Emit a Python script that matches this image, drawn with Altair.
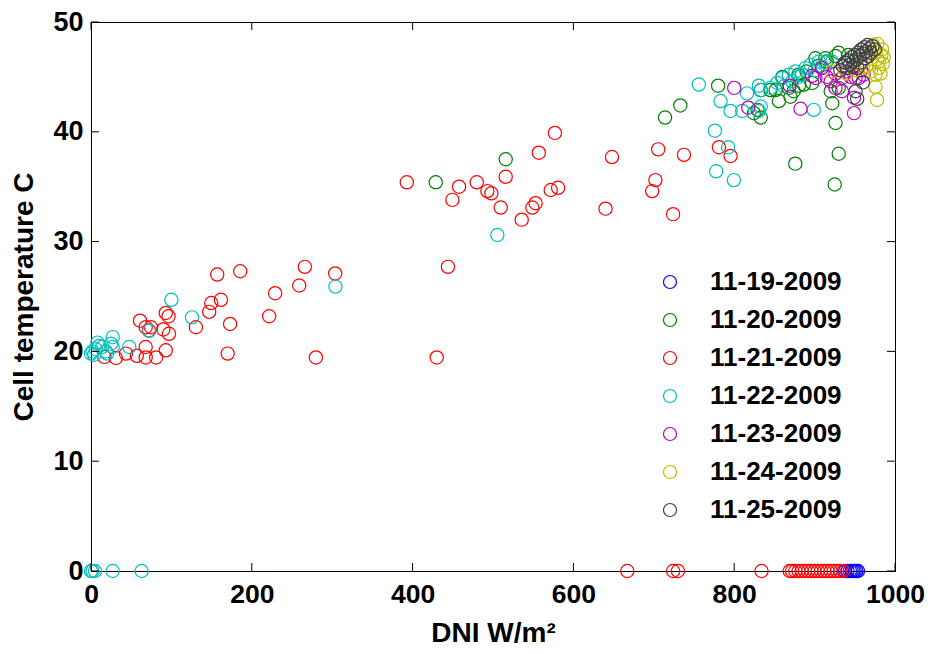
import altair as alt
import pandas as pd

dates = ["11-19-2009", "11-20-2009", "11-21-2009", "11-22-2009",
         "11-23-2009", "11-24-2009", "11-25-2009"]
colors = ["#0000FF", "#008000", "#FF0000", "#00BFBF", "#BF00BF", "#BFBF00", "#404040"]

x_ticks = [0, 200, 400, 600, 800, 1000]
y_ticks = [0, 10, 20, 30, 40, 50]

# 11-19-2009
dni_19 = [938, 941, 944, 946, 948, 950, 952, 954]
temp_19 = [0, 0, 0, 0, 0, 0, 0, 0]

# 11-20-2009
dni_20 = [428.8, 515.8, 714, 733, 780, 824.5, 833, 829, 855.6, 851.5, 870, 874,
          868, 880.5, 886.6, 897, 920, 922, 926, 930, 876, 925, 930, 833, 845,
          901, 913.5, 926, 930, 905, 915, 938, 942, 860, 890, 880]
temp_20 = [35.4, 37.5, 41.3, 42.4, 44.2, 41.7, 41.3, 42.0, 42.8, 43.8, 43.2, 43.7,
           44.0, 44.2, 44.3, 44.45, 43.7, 42.6, 40.8, 38.0, 37.1, 35.2, 44.0, 43.8, 43.8,
           46.7, 46.7, 46.9, 47.2, 46.0, 46.4, 46.3, 47.0, 45.0, 45.5, 45.2]

# 11-21-2009
dni_21 = [16.6, 31, 43.5, 57, 68, 68, 81, 93, 61, 68, 74.6, 72, 90, 97, 93, 96.5,
          130.5, 147, 149.5, 161.6, 173, 170, 157, 185.6, 221.6, 229, 259, 266,
          279.7, 303.7,
          392.8, 457.8, 449.5, 444, 430, 479.8, 493, 498, 509.6, 515.8, 535.7, 549,
          553, 557, 577, 571.8, 581, 648, 640, 705.5, 702, 698, 724, 737.5, 781, 795.5,
          667, 724, 730, 834, 869, 872, 876, 880, 884, 888, 892, 896, 900, 904, 908,
          912, 916, 920, 924, 928, 932, 936]
temp_21 = [19.5, 19.4, 19.8, 19.6, 19.45, 20.4, 19.45, 20.1, 22.8, 22.2, 22.2, 21.9,
           22.0, 21.6, 23.5, 23.2, 22.2, 23.6, 24.4, 24.7, 22.5, 19.8, 27.0, 27.3,
           23.2, 25.3, 26.0, 27.7, 19.45, 27.1,
           35.4, 35.0, 33.8, 27.7, 19.45, 35.4, 34.6, 34.4, 33.1, 35.9, 32.0, 33.1,
           33.5, 38.1, 39.9, 34.7, 34.9, 37.7, 33.0, 38.4, 35.6, 34.6, 32.5, 37.9,
           38.6, 37.8,
           0, 0, 0, 0, 0, 0, 0, 0, 0, 0, 0, 0, 0, 0, 0, 0, 0, 0, 0, 0, 0, 0]

# 11-22-2009
dni_22 = [0, 2, 5, 27, 63,
          0, 2, 4, 6, 10, 8, 14, 18.6, 24.9, 27, 27, 20, 47.6, 72.5, 100, 125.6, 304,
          505.4,
          756, 783, 795.5, 810, 816, 833, 830.7, 833, 830.7, 899, 776, 792.5, 777.6,
          799.6,
          853.5, 859.7, 868, 876.3, 888.7, 895, 905.3, 913.6, 921.8, 861.8, 872, 884.5,
          845, 880, 900, 910]
temp_22 = [0, 0, 0, 0, 0,
           19.8, 20.0, 19.7, 20.2, 20.5, 20.8, 20.4, 20.0, 20.7, 21.3, 20.4, 19.8,
           20.4, 21.9, 24.7, 23.1, 25.9,
           30.6,
           44.3, 42.8, 41.9, 41.9, 43.5, 43.8, 44.2, 42.3, 41.9, 42.0, 40.1, 38.6,
           36.4, 35.6,
           44.45, 44.9, 45.2, 45.5, 45.8, 46.1, 46.4, 46.3, 46.4, 44.15, 44.6, 45.2,
           44.0, 45.0, 45.6, 45.9]

# 11-23-2009
dni_23 = [800, 817.5, 869, 882.5, 926, 934, 949, 949, 897, 909, 926, 951, 961,
          901, 934, 955, 940, 945, 915, 920, 958]
temp_23 = [44.0, 42.2, 44.2, 42.1, 44.0, 43.7, 43.1, 41.7, 45.1, 45.8, 45.3, 44.9,
           45.2, 44.9, 44.9, 44.9, 45.5, 45.0, 45.0, 44.6, 45.6]

# 11-24-2009
dni_24 = [975.7, 977.7, 921.5, 980, 975.7, 980, 983, 984, 978, 973, 986, 982,
          970, 960, 950, 940, 978, 976, 965, 985]
temp_24 = [44.1, 42.9, 45.5, 45.8, 45.2, 46.4, 47.0, 47.5, 48.0, 47.9, 46.8, 45.3,
           45.5, 45.9, 45.6, 45.3, 46.6, 47.3, 46.0, 46.2]

# 11-25-2009
dni_25 = [932, 935, 938, 940, 942, 944, 946, 948, 950, 952, 954, 956, 958, 960,
          962, 964, 966, 968, 970, 972, 957, 963, 947, 953, 967, 975, 951, 953, 960]
temp_25 = [45.6, 46.0, 46.3, 45.8, 46.5, 46.1, 46.8, 46.4, 47.0, 46.6, 47.2, 46.9,
           47.5, 47.1, 47.7, 47.3, 47.9, 47.6, 47.2, 47.8, 46.3, 46.7, 45.9, 45.8,
           46.9, 47.5, 43.7, 43.0, 44.5]

series = [(dni_19, temp_19), (dni_20, temp_20), (dni_21, temp_21), (dni_22, temp_22),
          (dni_23, temp_23), (dni_24, temp_24), (dni_25, temp_25)]

rows = []
for i, (xs, ys) in enumerate(series):
    for k, (xv, yv) in enumerate(zip(xs, ys)):
        rows.append({"dni": xv, "temp": yv, "date": dates[i], "order": i * 1000 + k})
df = pd.DataFrame(rows)

FONT = "Liberation Sans"
W, H = 804, 549
xscale = alt.Scale(domain=[0, 1000], nice=False, zero=False, padding=0)
yscale = alt.Scale(domain=[0, 50], nice=False, zero=False, padding=0)

xaxis = alt.Axis(values=x_ticks, title="DNI W/m²", grid=False, tickSize=0,
                 labelPadding=10, titlePadding=12, format="d", labelFlush=False,
                 labelFontSize=26.5)
yaxis = alt.Axis(values=y_ticks, title="Cell temperature C", grid=False,
                 tickSize=0, labelPadding=8, titlePadding=14, format="d", labelFlush=False)

points = alt.Chart(df).mark_point(shape="circle", filled=False, size=175,
                                  strokeWidth=1.2, opacity=1).encode(
    x=alt.X("dni:Q", scale=xscale, axis=xaxis),
    y=alt.Y("temp:Q", scale=yscale, axis=yaxis),
    color=alt.Color("date:N",
                    scale=alt.Scale(domain=dates, range=colors),
                    legend=alt.Legend(title=None, orient="none", legendX=566, legendY=247,
                                      symbolType="circle", symbolSize=170,
                                      symbolStrokeWidth=1.2, symbolFillColor="transparent",
                                      labelFontSize=26, labelFont=FONT,
                                      labelFontWeight="bold", labelColor="black",
                                      labelOffset=27, rowPadding=12, padding=0,
                                      labelLimit=400)),
    order=alt.Order("order:Q"),
)

xt = pd.DataFrame({"t": x_ticks})
yt = pd.DataFrame({"t": y_ticks})
TL = 8
bottom_ticks = alt.Chart(xt).mark_rule(color="black", strokeWidth=1).encode(
    x=alt.X("t:Q", scale=xscale, axis=xaxis), y=alt.value(H), y2=alt.value(H - TL))
top_ticks = alt.Chart(xt).mark_rule(color="black", strokeWidth=1).encode(
    x=alt.X("t:Q", scale=xscale, axis=xaxis), y=alt.value(0), y2=alt.value(TL))
left_ticks = alt.Chart(yt).mark_rule(color="black", strokeWidth=1).encode(
    y=alt.Y("t:Q", scale=yscale, axis=yaxis), x=alt.value(0), x2=alt.value(TL))
right_ticks = alt.Chart(yt).mark_rule(color="black", strokeWidth=1).encode(
    y=alt.Y("t:Q", scale=yscale, axis=yaxis), x=alt.value(W), x2=alt.value(W - TL))

chart = alt.layer(points, bottom_ticks, top_ticks, left_ticks, right_ticks).properties(
    width=W, height=H,
    autosize=alt.AutoSizeParams(type="none"),
    padding={"left": 83, "top": 14, "right": 30, "bottom": 80},
    background="white",
).configure_view(stroke="black", strokeWidth=1).configure_axis(
    labelFont=FONT, labelFontSize=27, labelFontWeight="bold", labelColor="black",
    titleFont=FONT, titleFontSize=28, titleFontWeight="bold", titleColor="black",
    domainColor="black", domainWidth=1,
)

chart.save("out.html", embed_options={"renderer": "svg", "actions": False})
